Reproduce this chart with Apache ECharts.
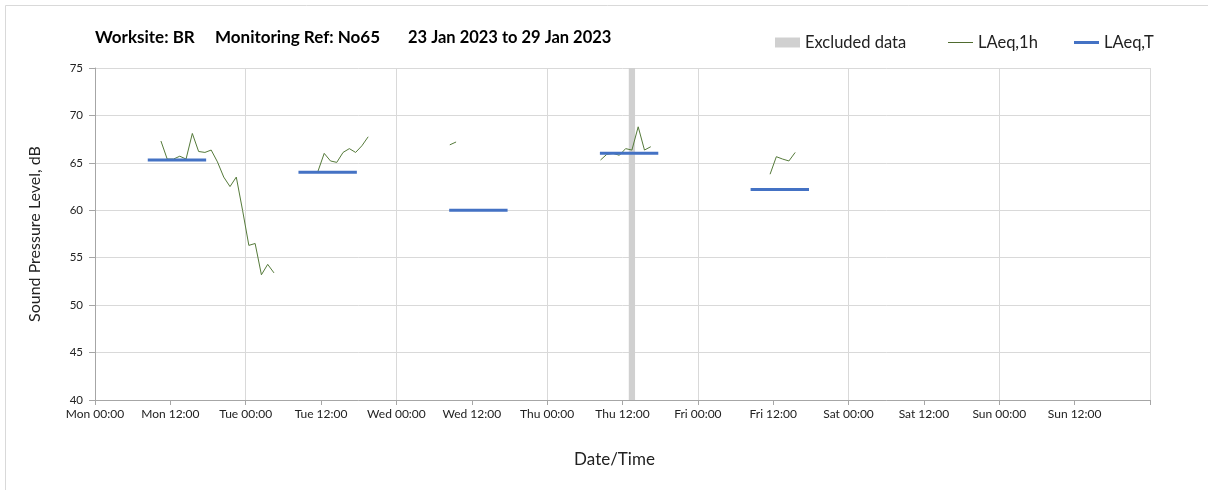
<!DOCTYPE html>
<html>
<head>
<meta charset="utf-8">
<script src="https://cdn.jsdelivr.net/npm/echarts@6/dist/echarts.min.js"></script>
<style>
html,body{margin:0;padding:0;background:#fff;}
#c{width:1208px;height:490px;}
</style>
</head>
<body>
<div id="c"></div>
<script>
// Hours since Monday 00:00
const dayNames = ['Mon','Tue','Wed','Thu','Fri','Sat','Sun'];
const titleParts = ['Worksite: BR', 'Monitoring Ref: No65', '23 Jan 2023 to 29 Jan 2023'];

// LAeq,1h segments (hours, dB)
const monHours = [10.5,11.5,12.5,13.5,14.5,15.5,16.5,17.5,18.5,19.5,20.5,21.5,22.5,23.5,24.5,25.5,26.5,27.5,28.5];
const monValues = [67.3,65.4,65.4,65.7,65.4,68.1,66.2,66.1,66.35,65.1,63.5,62.5,63.5,60.0,56.3,56.5,53.2,54.3,53.4];
const tueHours = [35.5,36.5,37.5,38.5,39.5,40.5,41.5,42.5,43.5];
const tueValues = [64.1,66.0,65.2,65.05,66.1,66.5,66.1,66.8,67.75];
const wedHours = [56.5,57.5];
const wedValues = [66.9,67.2];
const thuHours = [80.5,81.5,82.5,83.5,84.5,85.5,86.5,87.5,88.5];
const thuValues = [65.3,65.9,66.0,65.8,66.5,66.35,68.8,66.35,66.7];
const friHours = [107.5,108.5,109.5,110.5,111.5];
const friValues = [63.8,65.65,65.4,65.2,66.1];

// LAeq,T daytime periods
const periodStart = [8.4,32.4,56.4,80.4,104.4];
const periodEnd = [17.7,41.7,65.7,89.7,113.7];
const periodValues = [65.3,64.0,60.0,66.0,62.2];

// Excluded data
const excludedStart = [85.0];
const excludedEnd = [86.0];

const segH = [monHours,tueHours,wedHours,thuHours,friHours];
const segV = [monValues,tueValues,wedValues,thuValues,friValues];
const hourlyData = [];
segH.forEach((hs,i)=>{
  hs.forEach((h,j)=>hourlyData.push([h, segV[i][j]]));
  hourlyData.push([hs[hs.length-1]+0.2, '-']);
});
const periodData = [];
periodStart.forEach((s,i)=>{
  periodData.push([s, periodValues[i]]);
  periodData.push([periodEnd[i], periodValues[i]]);
  periodData.push([periodEnd[i]+0.1, '-']);
});

const FONT = 'Lato';
const legendText = {fontSize:16.5,color:'#222',fontFamily:FONT};
const chart = echarts.init(document.getElementById('c'));
chart.setOption({
  animation:false,
  backgroundColor:'#fff',
  textStyle:{fontFamily:FONT},
  graphic:[
    {type:'rect', shape:{x:5.5,y:5.5,width:1215,height:500}, style:{fill:'none',stroke:'#d9d9d9',lineWidth:1}, silent:true},
    {type:'text', left:95, top:29, style:{text:titleParts[0], font:'bold 17px '+FONT, fill:'#000'}},
    {type:'text', left:215, top:29, style:{text:titleParts[1], font:'bold 17px '+FONT, fill:'#000'}},
    {type:'text', left:408, top:29, style:{text:titleParts[2], font:'bold 16.5px '+FONT, fill:'#000'}}
  ],
  legend:[
    {left:775, top:34, padding:0, itemWidth:25, itemHeight:10, textStyle:legendText, data:[{name:'Excluded data', icon:'rect'}]},
    {left:948, top:34, padding:0, itemWidth:25, itemHeight:10, textStyle:legendText, data:[{name:'LAeq,1h', icon:'path://M0,4.5H25V5.5H0Z'}]},
    {left:1074, top:34, padding:0, itemWidth:25, itemHeight:10, textStyle:legendText, data:[{name:'LAeq,T', icon:'path://M0,3.5H25V6.5H0Z'}]}
  ],
  grid:{left:95, right:58, top:68, bottom:90, containLabel:false},
  xAxis:[
    {type:'value', min:0, max:168, interval:12,
     name:'Date/Time', nameLocation:'middle', nameGap:51,
     nameTextStyle:{fontSize:17,color:'#222',fontFamily:FONT,padding:[0,16,0,0]},
     axisLine:{show:true,lineStyle:{color:'#a6a6a6'}},
     axisTick:{show:true,length:5,lineStyle:{color:'#a6a6a6'}},
     splitLine:{show:false},
     axisLabel:{fontSize:12,color:'#222',margin:8,fontFamily:FONT,
       formatter:v=>{ if(v>=168) return ''; return dayNames[Math.floor(v/24)]+' '+(v%24===0?'00:00':'12:00'); }}
    },
    {type:'value', min:0, max:168, interval:24, position:'bottom',
     axisLine:{show:false}, axisTick:{show:false}, axisLabel:{show:false},
     splitLine:{show:true,lineStyle:{color:'#d9d9d9',width:1}}
    }
  ],
  yAxis:{type:'value', min:40, max:75, interval:5,
    name:'Sound Pressure Level, dB', nameLocation:'middle', nameGap:52,
    nameTextStyle:{fontSize:16,color:'#222',fontFamily:FONT},
    axisLine:{show:true,lineStyle:{color:'#a6a6a6'}},
    axisTick:{show:true,length:6,lineStyle:{color:'#a6a6a6'}},
    axisLabel:{fontSize:11.5,color:'#222',margin:12,fontFamily:FONT},
    splitLine:{show:true,lineStyle:{color:'#d9d9d9'}}
  },
  series:[
    {name:'Excluded data', type:'line', data:[], itemStyle:{color:'#d0d0d0'}, lineStyle:{color:'#d0d0d0'},
     markArea:{silent:true, itemStyle:{color:'#d0d0d0'},
       data: excludedStart.map((s,i)=>[{xAxis:s},{xAxis:excludedEnd[i]}])}},
    {name:'LAeq,1h', type:'line', data:hourlyData, showSymbol:false, connectNulls:false,
     itemStyle:{color:'#4f6b2f'}, lineStyle:{color:'#557a3a',width:1}, z:3},
    {name:'LAeq,T', type:'line', data:periodData, showSymbol:false, connectNulls:false,
     itemStyle:{color:'#4472c4'}, lineStyle:{color:'#4472c4',width:3,cap:'butt'}, z:4}
  ]
});
</script>
</body>
</html>
